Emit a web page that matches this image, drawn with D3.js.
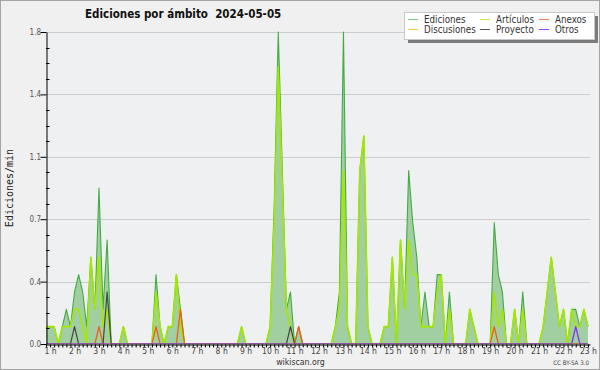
<!DOCTYPE html>
<html>
<head>
<meta charset="utf-8">
<script src="https://cdn.jsdelivr.net/npm/d3@7"></script>
<style>
  body { margin: 0; background: #fff; }
  svg { display: block; }
  text { font-family: 'DejaVu Sans Condensed', 'DejaVu Sans', sans-serif; font-stretch: condensed; }
</style>
</head>
<body>
<svg id="chart" width="600" height="370"></svg>
<script>
const titulo = 'Ediciones por ámbito  2024-05-05'
const horas = d3.range(1, 24)
const ejeY = [0, 0.36, 0.72, 1.08, 1.44, 1.8]

// ediciones/min, one value every 10 minutes from 1:00 to 23:10
const ediciones = [
  0.1, 0.1, 0.1, 0, 0.1, 0.2, 0.1, 0.3, 0.4, 0.3, 0.1, 0.5,
  0.2, 0.9, 0.2, 0.6, 0, 0, 0, 0.1, 0, 0, 0, 0,
  0, 0, 0, 0.4, 0.1, 0, 0.1, 0.1, 0.4, 0.2, 0, 0,
  0, 0, 0, 0, 0, 0, 0, 0, 0, 0, 0, 0,
  0.1, 0, 0, 0, 0, 0, 0, 0.1, 0.8, 1.8, 1.0, 0.2,
  0.3, 0, 0.1, 0, 0, 0, 0, 0, 0, 0, 0, 0.1,
  0.3, 1.8, 0.1, 0, 0, 1.0, 1.2, 0.1, 0, 0, 0, 0.1,
  0.1, 0.5, 0, 0.6, 0.2, 1.0, 0.7, 0.5, 0.1, 0.3, 0.1, 0.1,
  0.4, 0.4, 0, 0.3, 0, 0, 0, 0, 0.2, 0.1, 0, 0,
  0, 0, 0.7, 0.4, 0.3, 0, 0, 0.2, 0, 0.3, 0, 0,
  0, 0, 0.1, 0.3, 0.5, 0.3, 0.1, 0.2, 0, 0.2, 0.2, 0.1,
  0.2, 0.1
]
const articulos = [
  0.1, 0.1, 0.1, 0, 0.1, 0.1, 0.1, 0.2, 0.2, 0.1, 0, 0.5,
  0.2, 0.5, 0.1, 0.2, 0, 0, 0, 0.1, 0, 0, 0, 0,
  0, 0, 0, 0.3, 0.1, 0, 0.1, 0.1, 0.4, 0.1, 0, 0,
  0, 0, 0, 0, 0, 0, 0, 0, 0, 0, 0, 0,
  0.1, 0, 0, 0, 0, 0, 0, 0.1, 0.7, 1.6, 0.9, 0.2,
  0.1, 0, 0, 0, 0, 0, 0, 0, 0, 0, 0, 0.1,
  0.2, 1.0, 0.1, 0, 0, 1.0, 1.2, 0.1, 0, 0, 0, 0.1,
  0.1, 0.5, 0, 0.6, 0.2, 0.6, 0.4, 0.4, 0.1, 0.1, 0.1, 0.1,
  0.3, 0.4, 0, 0.2, 0, 0, 0, 0, 0.2, 0.1, 0, 0,
  0, 0, 0.3, 0.1, 0.2, 0, 0, 0.2, 0, 0.2, 0, 0,
  0, 0, 0.1, 0.3, 0.5, 0.3, 0.1, 0.2, 0, 0.2, 0.1, 0.1,
  0.2, 0.1
]
// small series: only the non zero moments
const anexosHora = ['3:10', '5:30', '6:30', '11:20', '19:20']
const anexosValor = [0.1, 0.1, 0.2, 0.1, 0.1]
const discusionesHora = []
const discusionesValor = []
const proyectoHora = ['2:10', '3:30', '11:00']
const proyectoValor = [0.1, 0.3, 0.1]
const otrosHora = ['22:40']
const otrosValor = [0.1]

const width = 600
const height = 370
const margin = { top: 32, left: 46, right: 10, bottom: 26 }

const svg = d3.select('#chart')

const minutos = ediciones.map((d, i) => 60 + i * 10)
const aMin = h => {
  const p = h.split(':')
  return +p[0] * 60 + +p[1]
}
const completa = (horasSerie, valores) =>
  minutos.map(m => {
    const k = horasSerie.findIndex(h => aMin(h) === m)
    return k < 0 ? 0 : valores[k]
  })

const series = [
  { name: 'Ediciones', values: ediciones, color: '#44aa44', legend: '#7ccc7c', w: 1.1 },
  { name: 'Artículos', values: articulos, color: '#a4e800', legend: '#c8ee50', w: 1.6 },
  { name: 'Anexos', values: completa(anexosHora, anexosValor), color: '#ee6010', legend: '#f08048', w: 1.3 },
  { name: 'Discusiones', values: completa(discusionesHora, discusionesValor), color: '#f0c020', legend: '#f5d040', w: 1.3 },
  { name: 'Proyecto', values: completa(proyectoHora, proyectoValor), color: '#444444', legend: '#555555', w: 1.2 },
  { name: 'Otros', values: completa(otrosHora, otrosValor), color: '#8033ee', legend: '#8c4cf0', w: 1.3 }
]

const x = d3.scaleLinear().domain([60, 1395]).range([margin.left, width - margin.right])
const y = d3.scaleLinear().domain([0, 1.8]).range([height - margin.bottom, margin.top])

// background
svg.append('rect')
  .attr('x', 0.5).attr('y', 0.5)
  .attr('width', width - 1).attr('height', height - 1)
  .attr('fill', '#f0f0f0')
  .attr('stroke', '#a4a4a4')
svg.append('rect')
  .attr('x', margin.left).attr('y', margin.top)
  .attr('width', width - margin.right - margin.left)
  .attr('height', y(0) - margin.top)
  .attr('fill', '#eef0f2')

// keep the zero parts of the lines under the axis
svg.append('clipPath')
  .attr('id', 'plot')
  .append('rect')
  .attr('x', margin.left).attr('y', margin.top - 4)
  .attr('width', width - margin.right - margin.left)
  .attr('height', y(0) - margin.top + 3.8)

// grid
svg.append('g')
  .selectAll('line')
  .data(ejeY)
  .enter()
  .append('line')
  .attr('x1', margin.left)
  .attr('x2', width - margin.right)
  .attr('y1', d => Math.round(y(d)) + 0.5)
  .attr('y2', d => Math.round(y(d)) + 0.5)
  .attr('stroke', '#cccccc')

// area + lines
const area = d3.area()
  .x((d, i) => x(minutos[i]))
  .y0(y(0))
  .y1(d => y(d))
const line = d3.line()
  .x((d, i) => x(minutos[i]))
  .y(d => y(d))

const plot = svg.append('g').attr('clip-path', 'url(#plot)')

plot.append('path')
  .attr('d', area(ediciones))
  .attr('fill', '#a2cfa2')

series.forEach(s => {
  plot.append('path')
    .attr('d', line(s.values))
    .attr('fill', 'none')
    .attr('stroke', s.color)
    .attr('stroke-width', s.w)
    .attr('stroke-linejoin', 'round')
})

// y axis
const yAxis = svg.append('g')
  .attr('transform', 'translate(' + (margin.left + 0.5) + ',0)')
  .call(d3.axisLeft(y).tickValues(ejeY).tickSize(6).tickSizeOuter(0).tickFormat(d3.format('.1f')))
yAxis.select('.domain').attr('stroke', '#000')
yAxis.selectAll('.tick line').attr('stroke', '#000')
yAxis.selectAll('text')
  .attr('x', -5.5)
  .attr('font-size', 8)
  .attr('fill', '#555')
  .style('font-family', "'DejaVu Sans Condensed', 'DejaVu Sans', sans-serif")

svg.append('g')
  .selectAll('line')
  .data(d3.range(0, 21).map(d => d * 0.09).filter(d => ejeY.every(t => Math.abs(t - d) > 0.001)))
  .enter()
  .append('line')
  .attr('x1', margin.left)
  .attr('x2', margin.left + 3.5)
  .attr('y1', d => Math.round(y(d)) + 0.5)
  .attr('y2', d => Math.round(y(d)) + 0.5)
  .attr('stroke', '#000')

// x axis
const marcas = d3.range(60, 1395, 10)
const xAxis = svg.append('g')
  .attr('transform', 'translate(0,' + (Math.round(y(0)) + 0.5) + ')')
  .call(d3.axisBottom(x).tickValues(marcas).tickSize(3).tickSizeOuter(0)
    .tickFormat(d => (d % 60 === 0 && horas.includes(d / 60) ? d / 60 + ' h' : '')))
xAxis.select('.domain').attr('stroke', '#000')
xAxis.selectAll('.tick line').attr('stroke', '#000')
xAxis.selectAll('text')
  .attr('x', 4)
  .attr('y', 3.5)
  .attr('font-size', 8.5)
  .attr('fill', '#444')
  .style('font-family', "'DejaVu Sans Condensed', 'DejaVu Sans', sans-serif")

// title and labels
svg.append('text')
  .text(titulo)
  .attr('x', 85)
  .attr('y', 18)
  .attr('font-size', 11.5)
  .attr('font-weight', 'bold')
  .attr('fill', '#111')
  .style('white-space', 'pre')

svg.append('text')
  .text('Ediciones/min')
  .attr('transform', 'translate(13,188) rotate(-90)')
  .attr('text-anchor', 'middle')
  .attr('font-size', 10)
  .attr('fill', '#222')
  .style('font-family', "'DejaVu Sans Mono', monospace")

svg.append('text')
  .text('wikiscan.org')
  .attr('x', 300.5)
  .attr('y', 365)
  .attr('text-anchor', 'middle')
  .attr('font-size', 8.7)
  .attr('fill', '#333')

svg.append('text')
  .text('CC BY-SA 3.0')
  .attr('x', 589)
  .attr('y', 365)
  .attr('text-anchor', 'end')
  .attr('font-size', 6.2)
  .attr('fill', '#444')

// legend
const legend = svg.append('g').attr('transform', 'translate(404,12)')
legend.append('rect')
  .attr('x', 4).attr('y', 4)
  .attr('width', 190).attr('height', 27)
  .attr('fill', '#7a7a7a')
legend.append('rect')
  .attr('x', 0.5).attr('y', 0.5)
  .attr('width', 190).attr('height', 27)
  .attr('fill', '#fff')
  .attr('stroke', '#c8c8c8')

const orden = ['Ediciones', 'Artículos', 'Anexos', 'Discusiones', 'Proyecto', 'Otros']
const colX = [4, 76, 135]
orden.forEach((n, k) => {
  const s = series.find(d => d.name === n)
  const cx = colX[k % 3]
  const cy = k < 3 ? 7.5 : 17.5
  legend.append('line')
    .attr('x1', cx).attr('x2', cx + 10)
    .attr('y1', cy).attr('y2', cy)
    .attr('stroke', s.legend)
  legend.append('text')
    .text(n)
    .attr('x', cx + 16)
    .attr('y', cy + 3.5)
    .attr('font-size', 9.7)
    .attr('fill', '#333')
})
</script>
</body>
</html>
